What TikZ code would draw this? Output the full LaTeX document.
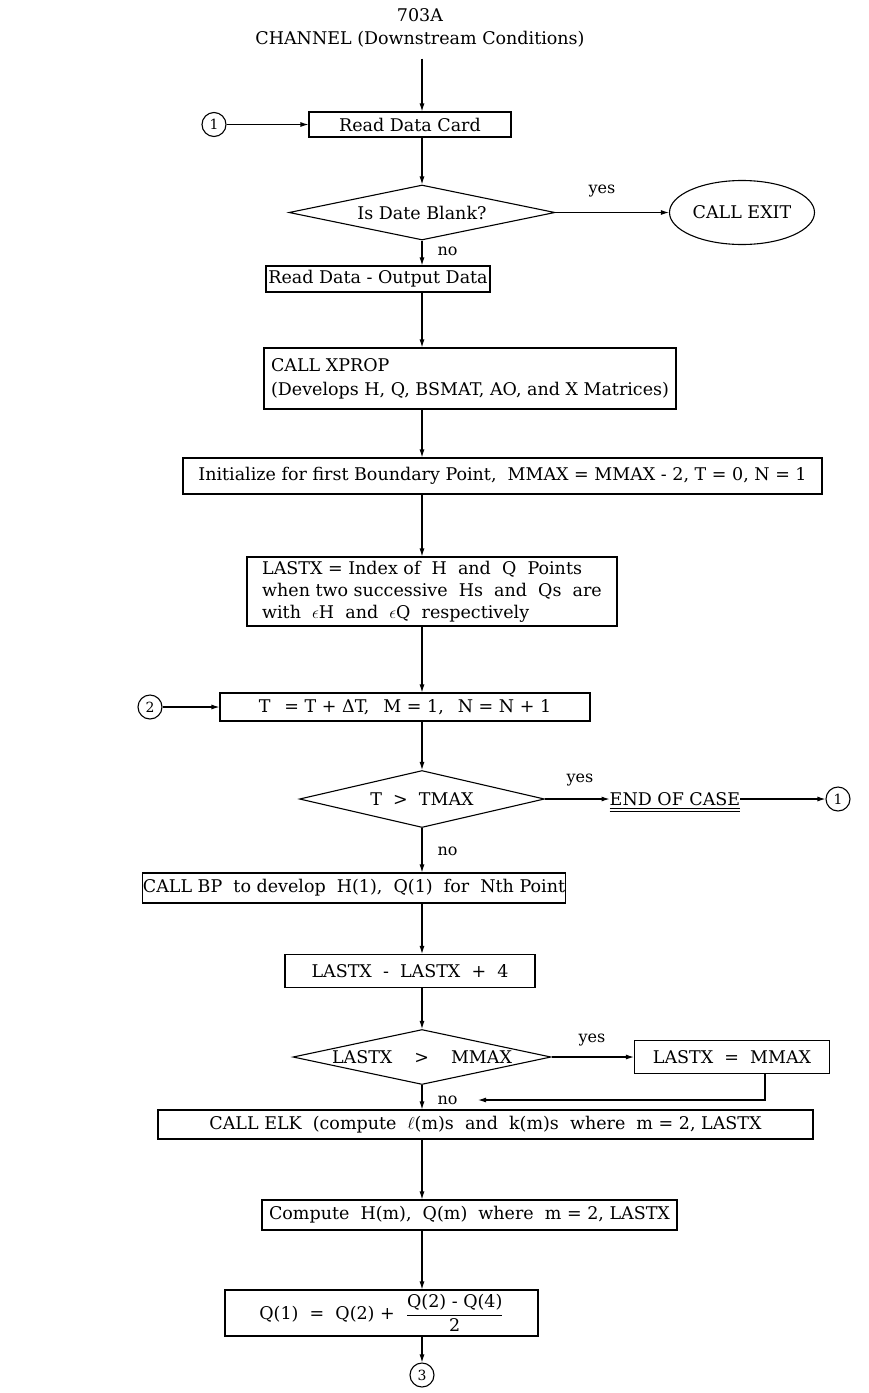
\documentclass[tikz,border=0pt]{standalone}
\usepackage{fontspec}
\setmainfont{DejaVu Serif}
\usetikzlibrary{shapes.geometric,arrows.meta}
\begin{document}
\begin{tikzpicture}[x=1pt,y=-1pt,
  every node/.style={font=\fontsize{17.5}{22}\selectfont},
  box/.style={draw, line width=1.1pt, rectangle, inner sep=0pt},
  dia/.style={draw, line width=1.1pt, diamond, inner sep=0pt},
  circ/.style={draw, line width=1.1pt, circle, minimum size=24pt, inner sep=0pt, font=\fontsize{14}{16}\selectfont},
  arr/.style={line width=1.1pt, -{Latex[length=8pt,width=5pt]}},
  ln/.style={line width=1.1pt},
  lbl/.style={font=\fontsize{16}{18}\selectfont}]
\fill[white] (0,0) rectangle (868,1393);
\useasboundingbox (0,0) rectangle (868,1393);
\coordinate (ax) at (422,0);
% title
\node (t1) at (420,15) {703A};
\node (t2) at (420,39) {CHANNEL (Downstream Conditions)};
% top part
\node[box, minimum width=202pt, minimum height=25pt] (rdc) at (410,124.5) {Read\ Data\ Card};
\node[circ] (c1) at (214,124.5) {1};
\node[dia, minimum width=266pt, minimum height=55pt] (d1) at (422,212.5) {};
\node (d1t) at (d1.center) {Is Date Blank?};
\node[draw, ellipse, line width=1.1pt, minimum width=145pt, minimum height=64pt, inner sep=0pt] (ex) at (742,212.5) {CALL EXIT};
\node[lbl] (y1) at (602,191) {yes};
\node[lbl, anchor=west] (n1) at (434,251) {no};
\node[box, minimum width=224pt, minimum height=26pt] (rdo) at (378,279) {Read Data - Output Data};
\node[box, minimum width=412pt, minimum height=61pt, align=left, font=\fontsize{17.5}{24}\selectfont] (xp) at (470,378.5) {CALL XPROP\\(Develops H, Q, BSMAT, AO, and X Matrices)};
\node[box, minimum width=639pt, minimum height=36pt] (init) at (502.5,476) {Initialize for first Boundary Point,\ \ MMAX = MMAX - 2,\ T = 0,\ N = 1};
\node[box, minimum width=370pt, minimum height=69pt, align=left, font=\fontsize{17.5}{22}\selectfont] (lx) at (432,591.5) {LASTX = Index of\ \ H\ \ and\ \ Q\ \ Points\\when two successive\ \ Hs\ \ and\ \ Qs\ \ are\\with\ \ $\epsilon$H\ \ and\ \ $\epsilon$Q\ \ respectively};
% loop 2
\node[circ] (c2) at (150,707) {2};
\node[box, minimum width=370pt, minimum height=28pt] (tb) at (405,707) {T\hspace{14pt}= T + ΔT,\hspace{14pt}M = 1,\hspace{14pt}N = N + 1};
\node[dia, minimum width=245pt, minimum height=57pt] (d2) at (422,799) {};
\node (d2t) at (d2.center) {T\ \ >\ \ TMAX};
\node[lbl] (y2) at (580,780) {yes};
\node[inner sep=0pt, anchor=base] (eoc) at (675,805) {END OF CASE};
\draw[line width=0.9pt] ([yshift=-2.5pt]eoc.south west) -- ([yshift=-2.5pt]eoc.south east);
\draw[line width=0.9pt] ([yshift=-6pt]eoc.south west) -- ([yshift=-6pt]eoc.south east);
\node[circ] (c1b) at (838,799) {1};
\node[lbl, anchor=west] (n2) at (434,851) {no};
\node[box, minimum width=412pt, minimum height=30pt] (bp) at (354,888) {CALL BP\ \ to develop\ \ H(1),\ \ Q(1)\ \ for\ \ Nth Point};
\node[box, minimum width=250pt, minimum height=33pt] (lx4) at (410,971) {LASTX\ \ -\ \ LASTX\ \ +\ \ 4};
\node[dia, minimum width=258pt, minimum height=55pt] (d3) at (422,1057) {};
\node (d3t) at (d3.center) {LASTX\hspace{22pt}>\hspace{22pt}MMAX};
\node[lbl] (y3) at (592,1040) {yes};
\node[box, minimum width=195pt, minimum height=33pt] (lxm) at (732,1057) {LASTX\ \ =\ \ MMAX};
\coordinate (rt) at (765,1100);
\coordinate (rtip) at (478,1100);
\node[lbl, anchor=west] (n3) at (434,1100) {no};
\node[box, minimum width=655pt, minimum height=29pt] (elk) at (485.5,1124.5) {CALL ELK\ \ (compute\ \ $\ell$(m)s\ \ and\ \ k(m)s\ \ where\ \ m = 2,\ LASTX};
\node[box, minimum width=415pt, minimum height=30pt] (hq) at (469.5,1215) {Compute\ \ H(m),\ \ Q(m)\ \ where\ \ m = 2,\ LASTX};
\node[box, minimum width=313pt, minimum height=46pt] (q1) at (381.5,1313) {Q(1)\ \ =\ \ Q(2) +\ \ $\displaystyle\frac{\hbox{Q(2) - Q(4)}}{\hbox{2}}$};
\node[circ] (c3) at (422,1375) {3};
% connectors
\draw[arr] ([yshift=-8pt]t2.south -| ax) -- (rdc.north -| ax);
\draw[arr] (c1.east) -- (rdc.west |- c1.east);
\draw[arr] (rdc.south -| ax) -- (d1.north);
\draw[arr] (d1.east) -- (ex.west);
\draw[arr] (d1.south) -- (rdo.north -| ax);
\draw[arr] (rdo.south -| ax) -- (xp.north -| ax);
\draw[arr] (xp.south -| ax) -- (init.north -| ax);
\draw[arr] (init.south -| ax) -- (lx.north -| ax);
\draw[arr] (lx.south -| ax) -- (tb.north -| ax);
\draw[arr] (c2.east) -- (tb.west |- c2.east);
\draw[arr] (tb.south -| ax) -- (d2.north);
\draw[arr] (d2.east) -- (d2.east -| eoc.west);
\draw[arr] (eoc.east |- c1b.west) -- (c1b.west);
\draw[arr] (d2.south) -- (bp.north -| ax);
\draw[arr] (bp.south -| ax) -- (lx4.north -| ax);
\draw[arr] (lx4.south -| ax) -- (d3.north);
\draw[arr] (d3.east) -- (lxm.west);
\draw[arr] (lxm.south -| rt) -- (rt) -- (rtip);
\draw[arr] (d3.south) -- (elk.north -| ax);
\draw[arr] (elk.south -| ax) -- (hq.north -| ax);
\draw[arr] (hq.south -| ax) -- (q1.north -| ax);
\draw[arr] (q1.south -| ax) -- (c3.north);
\end{tikzpicture}
\end{document}
